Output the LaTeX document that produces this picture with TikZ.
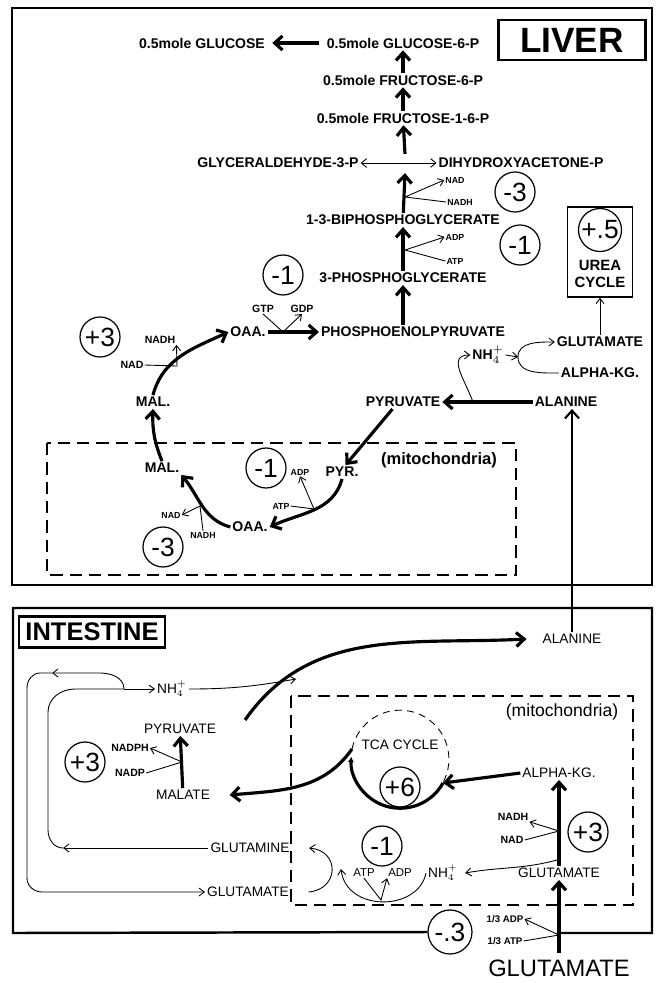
\documentclass[tikz,border=0pt]{standalone}
\usepackage{fontspec}
\setmainfont{Liberation Sans}
\usetikzlibrary{arrows.meta}

\tikzset{
  met/.style={font=\bfseries\fontsize{8}{9}\selectfont, inner sep=1pt},
  imet/.style={font=\fontsize{7.8}{9}\selectfont, inner sep=1pt},
  cof/.style={font=\bfseries\fontsize{5}{6}\selectfont, inner sep=0.5pt},
  icof/.style={font=\bfseries\fontsize{6}{7}\selectfont, inner sep=0.5pt},
  gain/.style={circle, draw, line width=0.7pt, minimum size=0.8cm, inner sep=0pt, font=\fontsize{15}{15}\selectfont},
  flux/.style={line width=1.8pt, -{Straight Barb[length=4.5pt,width=8pt]}},
  aux/.style={line width=0.5pt, -{Straight Barb[length=3pt,width=4.5pt]}},
  eq/.style={line width=0.5pt, {Straight Barb[length=3pt,width=5pt]}-{Straight Barb[length=3pt,width=5pt]}},
  organ/.style={line width=1.4pt},
  mitobox/.style={line width=0.6pt, dash pattern=on 7pt off 4pt},
}

\begin{document}
\begin{tikzpicture}[x=0.02cm, y=-0.02cm]
\useasboundingbox (0,0) rectangle (658,983);
% Liver frame
\draw[organ] (12,8) rectangle (652,585);
\node[draw, line width=1.6pt, minimum width=2.94cm, minimum height=0.8cm, font=\bfseries\fontsize{20}{20}\selectfont] (liver) at (572,40) {LIVER};
\draw[mitobox] (47,443) rectangle (516,575);
\node[font=\bfseries\fontsize{9.4}{10}\selectfont] (mitoL) at (439,460) {(mitochondria)};
% Gluconeogenic chain
\node[met] (glc) at (202,43) {0.5mole GLUCOSE};
\node[met] (g6p) at (403,43) {0.5mole GLUCOSE-6-P};
\node[met] (f6p) at (403,80) {0.5mole FRUCTOSE-6-P};
\node[met] (f16p) at (403,118) {0.5mole FRUCTOSE-1-6-P};
\node[met] (gap) at (278,163) {GLYCERALDEHYDE-3-P};
\node[met] (dhap) at (521,163) {DIHYDROXYACETONE-P};
\node[met] (bpg) at (403,220) {1-3-BIPHOSPHOGLYCERATE};
\node[met] (pga) at (403,278) {3-PHOSPHOGLYCERATE};
\node[met] (pep) at (413,332) {PHOSPHOENOLPYRUVATE};
\node[met] (oaa) at (248,332) {OAA.};
\node[met] (malc) at (153,402) {MAL.};
\node[met] (pyrc) at (403,402) {PYRUVATE};
\node[met] (alal) at (566,402) {ALANINE};
\node[met] (glul) at (600,342) {GLUTAMATE};
\node[met] (akgl) at (600,373) {ALPHA-KG.};
\node[met] (nhl) at (488,355) {NH$_4^+$};
\coordinate (tpin) at (405,173);
\coordinate (tpout) at (405,154);
\draw[flux, shorten >=3pt, shorten <=3pt] (g6p) -- (glc);
\draw[flux] (f6p) -- (g6p);
\draw[flux] (f16p) -- (f6p);
\draw[flux] (tpout) -- (f16p);
\draw[eq] (gap) -- (dhap);
\draw[flux] (bpg) -- (tpin);
\draw[flux] (pga) -- (bpg);
\draw[flux] (pga |- pep.north) -- (pga);
\draw[flux] (oaa) -- (pep);
% Cofactors along the chain
\node[cof] (nad1) at (455,180) {NAD};
\node[cof] (nadh1) at (460,202) {NADH};
\node[cof] (adp1) at (455,237) {ADP};
\node[cof] (atp1) at (455,261) {ATP};
\node[cof, font=\bfseries\fontsize{6}{7}\selectfont] (gtp) at (263,309) {GTP};
\node[cof, font=\bfseries\fontsize{6}{7}\selectfont] (gdp) at (302,309) {GDP};
\coordinate (bNad1) at (405,197);
\coordinate (bAtp1) at (405,250);
\coordinate (bGtp) at (283,332);
\draw[aux] (nadh1.west) -- (bNad1) -- (nad1.west);
\draw[aux] (atp1.west) -- (bAtp1) -- (adp1.west);
\draw[aux] (gtp.south) -- (bGtp) -- (gdp.south);
\node[gain] (gA) at (515,192) {-3};
\node[gain] (gB) at (520,245) {-1};
\node[gain] (gC) at (283,275) {-1};
% Malate to OAA in cytosol
\node[cof, font=\bfseries\fontsize{6}{7}\selectfont] (nadhl) at (160,340) {NADH};
\node[cof, font=\bfseries\fontsize{6}{7}\selectfont] (nadl) at (132,365) {NAD};
\node[gain] (gD) at (100,337) {+3};
\coordinate (bNadL) at (177,366);
\draw[flux] (malc.north) to[out=75,in=205] (oaa.west);
\draw[aux] (nadl.east) -- (bNadL) -- (nadhl.south east);
% Alanine, pyruvate and urea
\node[draw, line width=0.8pt, minimum width=1.3cm, minimum height=1.8cm] (urea) at (600,252) {};
\node[gain, minimum size=0.86cm] (gE) at (600,230) {+.5};
\node[met, align=center, font=\bfseries\fontsize{8.5}{10}\selectfont] (ureat) at (600,274) {UREA\\CYCLE};
\coordinate (bAla) at (473,402);
\coordinate (nhj) at (518,357);
\draw[flux] (alal) -- (pyrc);
\draw[aux] (bAla) to[out=110,in=180,looseness=1.3] (nhl.west);
\draw[aux] (nhl.east) -- (nhj);
\draw[aux] (akgl.west) to[out=180,in=-90] (nhj) to[out=90,in=180] (glul.west);
\draw[aux] (glul.north) -- (urea.south);
% Liver mitochondria
\node[met] (malm) at (162,468) {MAL.};
\node[met] (pyrm) at (342,472) {PYR.};
\node[met] (oaam) at (250,527) {OAA.};
\node[cof] (adpm) at (300,472) {ADP};
\node[cof] (atpm) at (281,506) {ATP};
\node[cof] (nadm) at (171,515) {NAD};
\node[cof] (nadhm) at (203,535) {NADH};
\node[gain] (gF) at (266,468) {-1};
\node[gain] (gG) at (163,547) {-3};
\coordinate (bAtpM) at (314,509);
\coordinate (bNadM) at (200,506);
\draw[flux] ([xshift=-6pt]pyrc.south) -- ([xshift=2pt]pyrm.north);
\draw[flux] (pyrm.south) to[out=-105,in=25] (oaam.east);
\draw[aux] (atpm.east) -- (bAtpM) -- (adpm.south);
\draw[flux] (oaam.west) to[out=165,in=-50] (malm.south east);
\draw[aux] (nadhm.north) -- (bNadM) -- (nadm.east);
\draw[flux] (malm.north) to[bend left=12] (malc.south);

% Intestine frame
\node[gain, minimum size=0.88cm] (gM) at (450,932) {-.3};
\node[font=\fontsize{13.5}{14}\selectfont] (glub) at (559,968) {GLUTAMATE};
\draw[organ] (gM.west) -- (13,933) -- (13,608) -- (652,608) -- (652,933) -- (glub.north |- 0,933);
\node[draw, line width=1.6pt, minimum width=2.92cm, minimum height=0.62cm, font=\bfseries\fontsize{14.5}{15}\selectfont] (intestine) at (92,632) {INTESTINE};
\draw[mitobox] (291,696) rectangle (633,905);
\node[font=\fontsize{10}{11}\selectfont] (mitoI) at (562,712) {(mitochondria)};
% Intestine metabolites
\node[imet] (alai) at (572,639) {ALANINE};
\node[imet] (nhi) at (172,689) {NH$_4^+$};
\node[imet] (pyri) at (180,729) {PYRUVATE};
\node[imet] (mali) at (183,795) {MALATE};
\node[imet] (glni) at (250,848) {GLUTAMINE};
\node[imet] (glui) at (248,892) {GLUTAMATE};
\node[imet] (tca) at (400,745) {TCA CYCLE};
\node[imet] (akgi) at (559,773) {ALPHA-KG.};
\node[imet] (glum) at (559,873) {GLUTAMATE};
\node[imet] (nhm) at (443,873) {NH$_4^+$};
\node[icof] (nadphi) at (130,748) {NADPH};
\node[icof] (nadpi) at (130,773) {NADP};
\node[icof] (nadhi) at (513,817) {NADH};
\node[icof] (nadi) at (512,840) {NAD};
\node[icof, font=\fontsize{6.5}{7}\selectfont] (atpi) at (364,873) {ATP};
\node[icof, font=\fontsize{6.5}{7}\selectfont] (adpi) at (400,873) {ADP};
\node[icof, font=\bfseries\fontsize{5.5}{6}\selectfont] (adp3) at (505,919) {1/3 ADP};
\node[icof, font=\bfseries\fontsize{5.5}{6}\selectfont] (atp3) at (505,941) {1/3 ATP};
\node[gain] (gH) at (85,762) {+3};
\node[gain] (gI) at (400,787) {+6};
\node[gain] (gJ) at (382,846) {-1};
\node[gain] (gK) at (588,832) {+3};
% Alanine export
\coordinate (pyrOut) at (245,720);
\coordinate (nhTip) at (296,679);
\draw[flux] (pyrOut) to[out=55,in=183] ([xshift=-8pt]alai.west);
\draw[aux] (nhi.east) to[out=0,in=190] (nhTip);
\draw[line width=1.2pt, -{Straight Barb[length=4.5pt,width=8pt]}] (alai.north) -- (alai.north |- alal.south);
% Malic enzyme
\coordinate (bNadp) at (182,762);
\draw[flux] (mali) -- (pyri);
\draw[aux] (nadpi.east) -- (bNadp) -- (nadphi.east);
% Glutamine and glutamate loop
\coordinate (jn) at (124,689);
\coordinate (gq) at (63,848);
\coordinate (gt) at (52,673);
\draw[aux] (glni.west) -- (gq);
\draw[line width=0.5pt] (gq) to[out=180,in=-90] (48,830) -- (48,712) to[out=90,in=180] (75,689) -- (jn);
\draw[aux] (jn) -- (nhi.west);
\draw[aux] (jn) to[out=90,in=0] (100,673) -- (gt);
\draw[aux] (gt) -- (40,673) to[out=180,in=90] (27,688) -- (27,878) to[out=-90,in=180] (42,892) -- (glui.west);
\draw[aux] ([xshift=10pt]glui.east) to[out=5,in=-5,looseness=1.8] ([xshift=10pt]glni.east);
% TCA cycle
\coordinate (tcaIn) at (443,783);
\coordinate (tcaOut) at (352,749);
\draw[flux] (akgi.west) -- (tcaIn);
\draw[line width=1.8pt, -{Latex[length=3pt,width=3.5pt]}] (tcaIn) arc[start angle=29, end angle=183, radius=49];
\draw[line width=0.5pt, dash pattern=on 4pt off 3pt] (tcaOut) arc[start angle=192, end angle=389, radius=49];
\draw[flux] (tcaOut) to[out=235,in=5] ([xshift=10pt]mali.east);
% Glutamate in mitochondria
\coordinate (bNadI) at (559,831);
\coordinate (bGlu) at (557,860);
\coordinate (atpTip) at (341,869);
\coordinate (bAtpI) at (381,900);
\coordinate (bAtp3) at (559,935);
\draw[flux] (glum) -- (akgi);
\draw[aux] (nadi.east) -- (bNadI) -- (nadhi.south east);
\draw[aux] (bGlu) to[out=195,in=10] ([xshift=3pt]nhm.east);
\draw[aux] (nhm.west) .. controls (418,912) and (346,912) .. (atpTip);
\draw[aux] (atpi.south) -- (bAtpI) -- (adpi.south west);
\draw[flux] (glub) -- (glum);
\draw[aux] (atp3.east) -- (bAtp3) -- (adp3.east);
\end{tikzpicture}
\end{document}
